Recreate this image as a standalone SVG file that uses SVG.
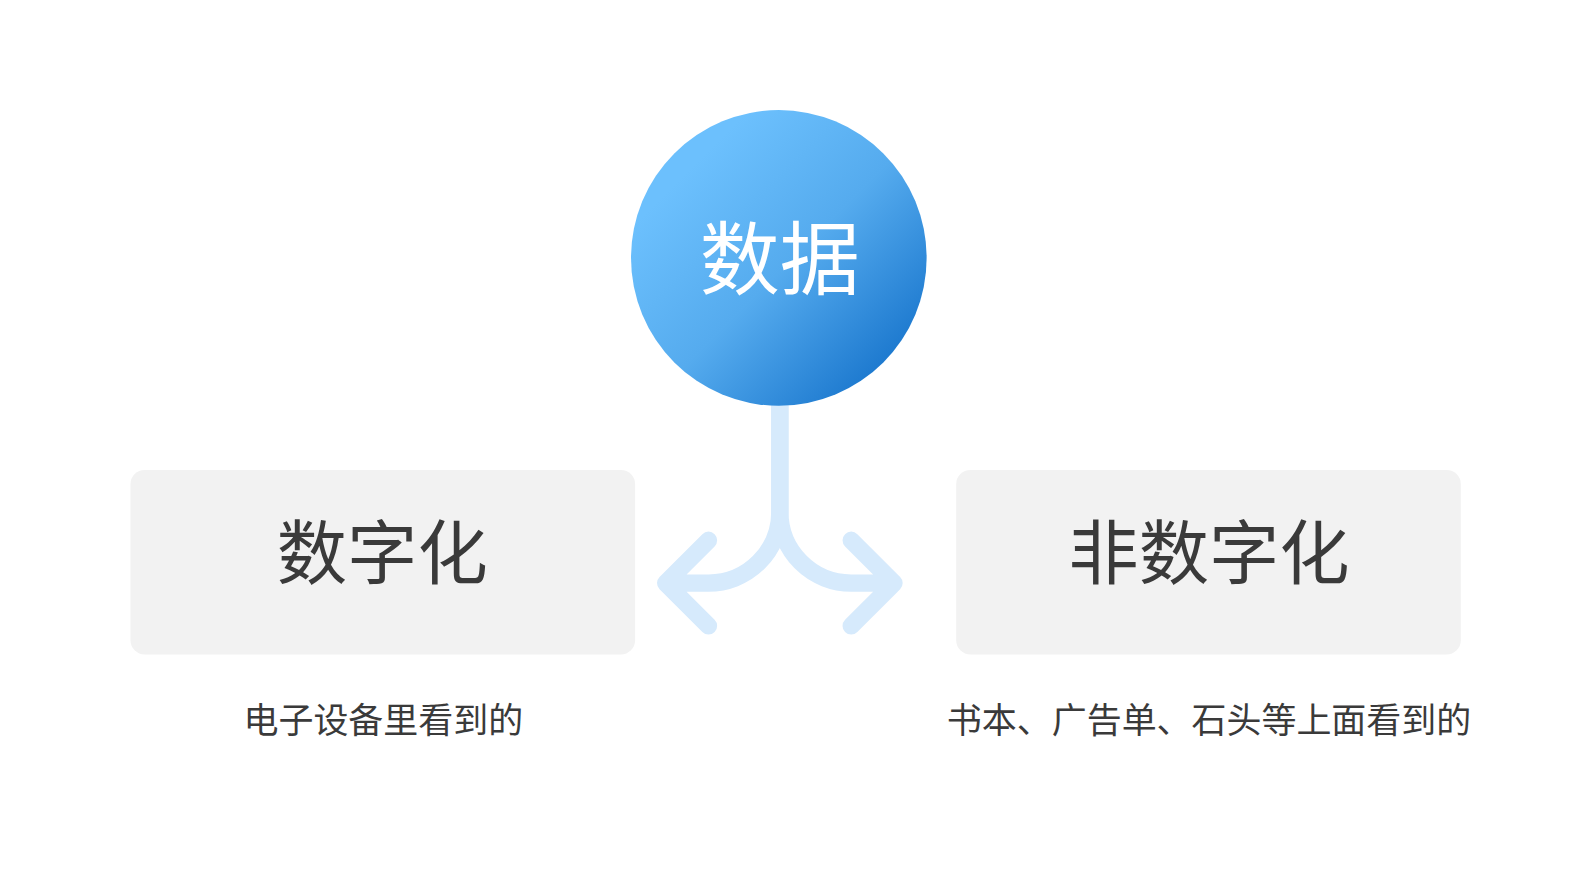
<svg xmlns="http://www.w3.org/2000/svg" width="1591" height="880" viewBox="0 0 1591 880">
<defs>
<linearGradient id="g" x1="0.2" y1="0.2" x2="0.85" y2="0.85">
<stop offset="0" stop-color="#6CC0FD"/><stop offset="0.5" stop-color="#55ABEE"/><stop offset="1" stop-color="#1F7BD0"/>
</linearGradient>
<style>
.box{fill:#F2F2F2}
.big{font-family:"Noto Sans CJK SC",sans-serif;font-size:69px;fill:#3a3a3a;text-anchor:middle}
.sub{font-family:"Noto Sans CJK SC",sans-serif;font-size:34.3px;fill:#3a3a3a;text-anchor:middle}
.c{fill:none;stroke:#D6EAFC;stroke-width:17;stroke-linecap:round;stroke-linejoin:round}
</style>
</defs>
<rect width="1591" height="880" fill="#fff"/>
<g transform="scale(1.0194)">
<g id="connectors">
<path class="c" d="M765 398 V502 A70 70 0 0 1 695 572 H655 M695 530 L653 572 L695 614"/>
<path class="c" d="M765 398 V502 A70 70 0 0 0 835 572 H875 M835 530 L877 572 L835 614"/>
</g>
<g id="data">
<circle cx="764" cy="253" r="145" fill="url(#g)"/>
<text x="765" y="283" font-family="Noto Sans CJK SC,sans-serif" font-size="78.5" fill="#fff" text-anchor="middle">数据</text>
</g>
<g id="digital">
<rect class="box" x="128" y="461" width="495" height="181" rx="14"/>
<text class="big" x="375" y="568">数字化</text>
<text class="sub" x="376" y="719">电子设备里看到的</text>
</g>
<g id="nondigital">
<rect class="box" x="938" y="461" width="495" height="181" rx="14"/>
<text class="big" x="1186" y="568">非数字化</text>
<text class="sub" x="1186" y="719">书本、广告单、石头等上面看到的</text>
</g>
</g>
</svg>
